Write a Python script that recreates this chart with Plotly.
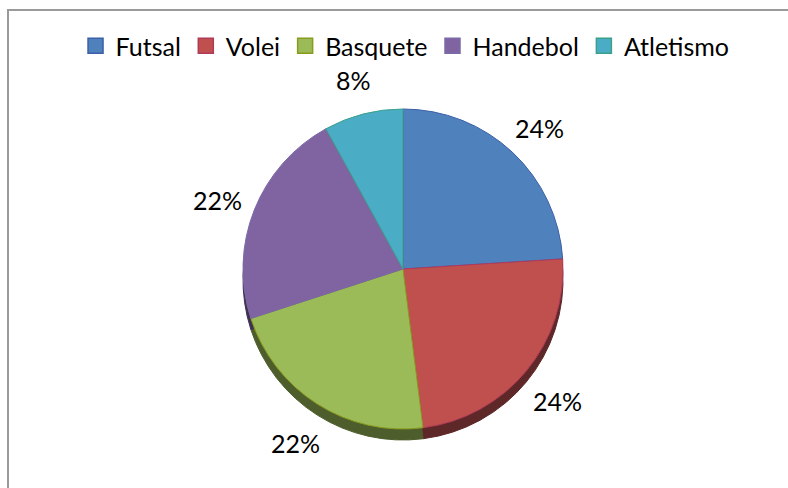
import math
import plotly.graph_objects as go

categories = ["Futsal", "Volei", "Basquete", "Handebol", "Atletismo"]
values = [24, 24, 22, 22, 8]
face_colors = ["#4F81BD", "#C0504D", "#9BBB59", "#8064A2", "#4BACC6"]
edge_colors = ["#3B5FA8", "#B03A5A", "#8A9A1E", "#7A6AA8", "#3AA08A"]
side_colors = ["#2C4D75", "#5E2728", "#4D5E2C", "#3F3151", "#276A7C"]

W, H = 788, 488
cx, cy, r = 403, 269, 160
depth = 11
label_dist = 200
label_cy_shift = 5

def dom(cx, cy, r):
    return dict(x=[(cx - r) / W, (cx + r) / W], y=[(H - cy - r) / H, (H - cy + r) / H])

fig = go.Figure()
fig.add_trace(go.Pie(
    labels=categories, values=values, sort=False, direction="clockwise",
    marker=dict(colors=side_colors, line=dict(color=side_colors, width=1)),
    textinfo="none", hoverinfo="skip", showlegend=False,
    domain=dom(cx, cy + depth, r),
))
fig.add_trace(go.Pie(
    labels=categories, values=values, sort=False, direction="clockwise",
    marker=dict(colors=face_colors, line=dict(color=edge_colors, width=1)),
    textinfo="none", showlegend=False,
    domain=dom(cx, cy, r),
))

# legend entries with larger square swatches
for name, fc, ec in zip(categories, face_colors, edge_colors):
    fig.add_trace(go.Scatter(
        x=[None], y=[None], mode="markers", name=name,
        marker=dict(symbol="square", size=15, color=fc, line=dict(color=ec, width=1.5)),
    ))

# percentage labels placed along each slice's mid-angle
total = sum(values)
cum = 0
for v in values:
    mid = (cum + v / 2) / total * 2 * math.pi
    cum += v
    px = cx + label_dist * math.sin(mid)
    py = cy + label_cy_shift - label_dist * math.cos(mid)
    fig.add_annotation(
        x=px / W, y=1 - py / H, xref="paper", yref="paper",
        text=f"{round(v / total * 100)}%", showarrow=False,
        xanchor="center", yanchor="middle",
        font=dict(family="Lato", size=25, color="#000000"),
    )

fig.add_shape(type="rect", xref="paper", yref="paper",
              x0=8 / W, x1=1.05, y0=-0.05, y1=1 - 10 / H,
              line=dict(color="#9A9A9A", width=2), fillcolor="rgba(0,0,0,0)")

fig.update_layout(
    width=W, height=H,
    margin=dict(l=0, r=0, t=0, b=0),
    paper_bgcolor="#FFFFFF", plot_bgcolor="#FFFFFF",
    xaxis=dict(visible=False), yaxis=dict(visible=False),
    font=dict(family="Lato", size=25, color="#000000"),
    legend=dict(orientation="h", x=0.514, xanchor="center", y=1 - 46 / H, yanchor="middle",
                font=dict(family="Lato", size=25, color="#000000"),
                itemsizing="trace", tracegroupgap=0),
)

fig.write_html("out.html")
